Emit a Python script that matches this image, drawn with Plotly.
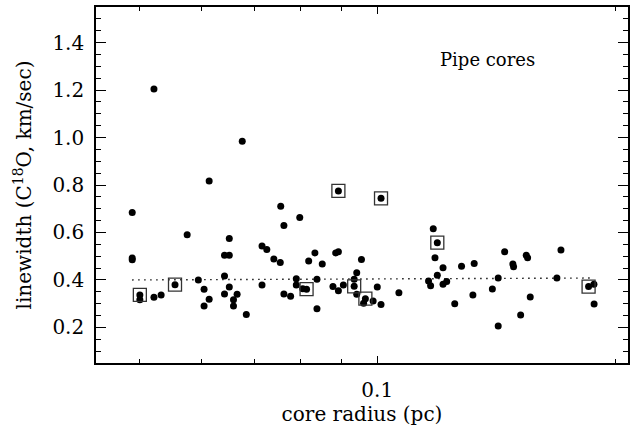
import plotly.graph_objects as go

# Unboxed cores: radius (pc), linewidth (km/s)
radius = [0.0490, 0.0490, 0.0490, 0.0501, 0.0522, 0.0522, 0.0533, 0.0575, 0.0594, 0.0604,
          0.0604, 0.0613, 0.0613, 0.0641, 0.0641, 0.0650, 0.0650, 0.0641, 0.0650, 0.0665,
          0.0658, 0.0658, 0.0675, 0.0683, 0.0715, 0.0725, 0.0715, 0.0740, 0.0754, 0.0755,
          0.0762, 0.0762, 0.0777, 0.0790, 0.0790, 0.0798, 0.0805, 0.0819, 0.0834, 0.0839,
          0.0839, 0.0852, 0.0879, 0.0886, 0.0893, 0.0893, 0.0906, 0.0935, 0.0942, 0.0942,
          0.0955, 0.0961, 0.0988, 0.1000, 0.1011, 0.1065, 0.1161, 0.1168, 0.1177, 0.1183,
          0.1211, 0.1191, 0.1211, 0.1224, 0.1253, 0.1278, 0.1321, 0.1326, 0.1398, 0.1422,
          0.1422, 0.1449, 0.1484, 0.1487, 0.1518, 0.1543, 0.1549, 0.1561, 0.1687, 0.1707,
          0.1879, 0.1880]
width = [0.684, 0.492, 0.485, 0.316, 1.205, 0.327, 0.336, 0.590, 0.400, 0.361,
         0.290, 0.817, 0.319, 0.417, 0.504, 0.504, 0.575, 0.341, 0.370, 0.340,
         0.316, 0.290, 0.984, 0.254, 0.543, 0.528, 0.379, 0.488, 0.473, 0.710,
         0.629, 0.341, 0.331, 0.405, 0.379, 0.663, 0.363, 0.480, 0.514, 0.403,
         0.279, 0.467, 0.372, 0.514, 0.519, 0.354, 0.379, 0.403, 0.430, 0.340,
         0.486, 0.302, 0.311, 0.370, 0.297, 0.346, 0.396, 0.376, 0.616, 0.493,
         0.451, 0.420, 0.382, 0.393, 0.300, 0.458, 0.337, 0.469, 0.362, 0.408,
         0.206, 0.519, 0.467, 0.456, 0.252, 0.504, 0.493, 0.328, 0.408, 0.526,
         0.382, 0.299]

# Boxed cores
box_radius = [0.0501, 0.0555, 0.0814, 0.0893, 0.0935, 0.0966, 0.1011, 0.1191, 0.1850]
box_width = [0.337, 0.380, 0.361, 0.775, 0.373, 0.321, 0.744, 0.557, 0.372]

# Fit line endpoints
fit_radius = [0.0490, 0.1880]
fit_width = [0.400, 0.408]

y_ticks = [0.2, 0.4, 0.6, 0.8, 1.0, 1.2, 1.4]
x_ticks = [0.1]
x_ticktext = ["0.1"]
x_minor = [0.05, 0.06, 0.07, 0.08, 0.09, 0.2]

FONT = "DejaVu Serif"

fig = go.Figure()
fig.add_trace(go.Scatter(x=fit_radius, y=fit_width, mode="lines",
                         line=dict(color="black", width=1.4, dash="1.4px,4.6px"),
                         showlegend=False, hoverinfo="skip"))
fig.add_trace(go.Scatter(x=radius + box_radius, y=width + box_width, mode="markers",
                         marker=dict(color="black", size=7, symbol="circle"),
                         showlegend=False))
fig.add_trace(go.Scatter(x=box_radius, y=box_width, mode="markers",
                         marker=dict(symbol="square-open", size=13, color="#333333",
                                     line=dict(width=1.3, color="#333333")),
                         showlegend=False))

fig.add_annotation(text="Pipe cores", xref="paper", yref="paper", x=0.829, y=0.888,
                   showarrow=False, font=dict(family=FONT, size=18, color="black"))

fig.update_layout(
    width=641, height=431,
    margin=dict(l=96, r=13, t=7, b=68),
    paper_bgcolor="white", plot_bgcolor="white",
    font=dict(family=FONT, color="black"),
)
fig.update_xaxes(
    type="log", range=[-1.3556, -0.683], automargin=False,
    tickmode="array", tickvals=x_ticks, ticktext=x_ticktext,
    ticks="inside", ticklen=7, tickwidth=1.2, tickcolor="black",
    minor=dict(tickmode="array", tickvals=x_minor, ticks="inside", ticklen=4,
               tickwidth=1.2, tickcolor="black", showgrid=False),
    showline=True, linecolor="black", linewidth=1.6, mirror="ticks",
    showgrid=False, zeroline=False,
    tickfont=dict(family=FONT, size=20),
    ticklabelstandoff=8,
    title=dict(text="core radius (pc)", font=dict(family=FONT, size=20), standoff=1),
)
fig.update_yaxes(
    range=[0.05, 1.55], automargin=False,
    tickmode="array", tickvals=y_ticks, tickformat=".1f",
    ticks="inside", ticklen=10, tickwidth=1.2, tickcolor="black",
    minor=dict(dtick=0.05, tick0=0, ticks="inside", ticklen=5,
               tickwidth=1.2, tickcolor="black", showgrid=False),
    showline=True, linecolor="black", linewidth=1.6, mirror="ticks",
    showgrid=False, zeroline=False,
    tickfont=dict(family=FONT, size=20),
    ticklabelstandoff=6,
    title=dict(text="linewidth (C<sup>18</sup>O, km/sec)", font=dict(family=FONT, size=20),
               standoff=15),
)

fig.write_html("out.html", config={"displayModeBar": False},
               post_script="document.body.style.margin='0';document.body.style.padding='0';")
